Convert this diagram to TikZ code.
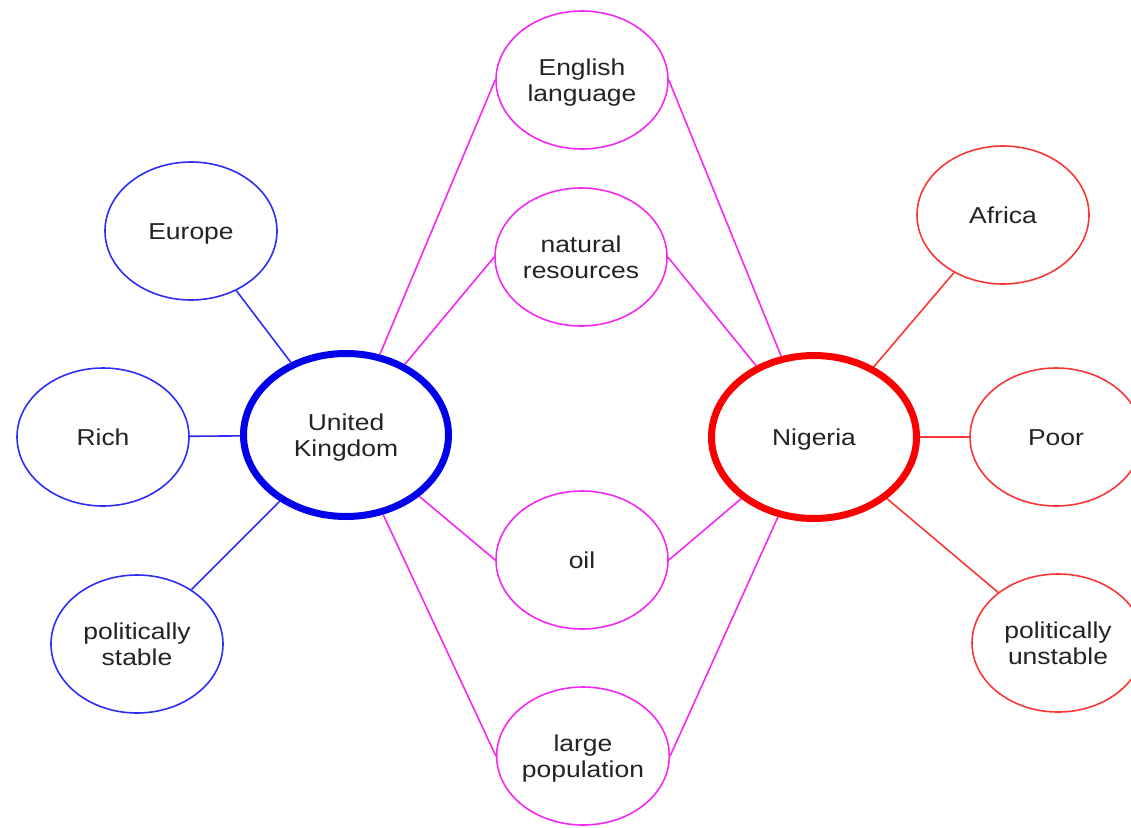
\documentclass[tikz,border=0pt]{standalone}
\usepackage{fontspec}
\setmainfont{Liberation Sans}
\usetikzlibrary{shapes.geometric}
\definecolor{ublue}{RGB}{0,0,235}
\definecolor{lblue}{RGB}{45,45,245}
\definecolor{mag}{RGB}{245,40,245}
\definecolor{nred}{RGB}{250,0,0}
\definecolor{lred}{RGB}{250,55,55}
\definecolor{txt}{RGB}{35,35,35}
\newcommand{\mylab}[1]{\raisebox{-3pt}[\height][\depth]{\scalebox{1.15}[1]{\begin{tabular}{@{}c@{}}#1\end{tabular}}}}
\begin{document}
\begin{tikzpicture}[x=1pt,y=-1pt,
  small/.style={ellipse, draw=#1, line width=1.6pt, minimum width=172pt, minimum height=138pt,
    inner sep=0pt, text=txt, font=\fontsize{23}{26}\selectfont},
  big/.style={ellipse, draw=#1, line width=7pt, minimum width=205pt, minimum height=163pt,
    inner sep=0pt, text=txt, font=\fontsize{23}{26}\selectfont},
  link/.style={line width=1.6pt, draw=#1}]
\useasboundingbox (0,0) rectangle (1131,827);
\fill[white] (0,0) rectangle (1131,827);
\clip (0,0) rectangle (1131,827);

\node[big=ublue] (uk) at (346,435) {\mylab{United\\Kingdom}};
\node[big=nred] (ng) at (814,437) {\mylab{Nigeria}};

\node[small=lblue] (eu) at (191,231) {\mylab{Europe}};
\node[small=lblue] (rich) at (103,437) {\mylab{Rich}};
\node[small=lblue] (ps) at (137,644) {\mylab{politically\\stable}};

\node[small=mag] (el) at (582,80) {\mylab{English\\language}};
\node[small=mag] (nr) at (581,257) {\mylab{natural\\resources}};
\node[small=mag] (oil) at (582,560) {\mylab{oil}};
\node[small=mag] (lp) at (583,756) {\mylab{large\\population}};

\node[small=lred] (af) at (1003,215) {\mylab{Africa}};
\node[small=lred] (poor) at (1056,437) {\mylab{Poor}};
\node[small=lred] (pu) at (1058,643) {\mylab{politically\\unstable}};

\draw[link=lblue] (uk) -- (eu);
\draw[link=lblue] (uk) -- (rich);
\draw[link=lblue] (uk) -- (ps);

\draw[link=mag] (uk) -- (el.west);
\draw[link=mag] (uk) -- (nr.west);
\draw[link=mag] (uk) -- (oil.west);
\draw[link=mag] (uk) -- (lp.west);
\draw[link=mag] (ng) -- (el.east);
\draw[link=mag] (ng) -- (nr.east);
\draw[link=mag] (ng) -- (oil.east);
\draw[link=mag] (ng) -- (lp.east);

\draw[link=lred] (ng) -- (af);
\draw[link=lred] (ng) -- (poor);
\draw[link=lred] (ng) -- (pu);
\end{tikzpicture}
\end{document}
